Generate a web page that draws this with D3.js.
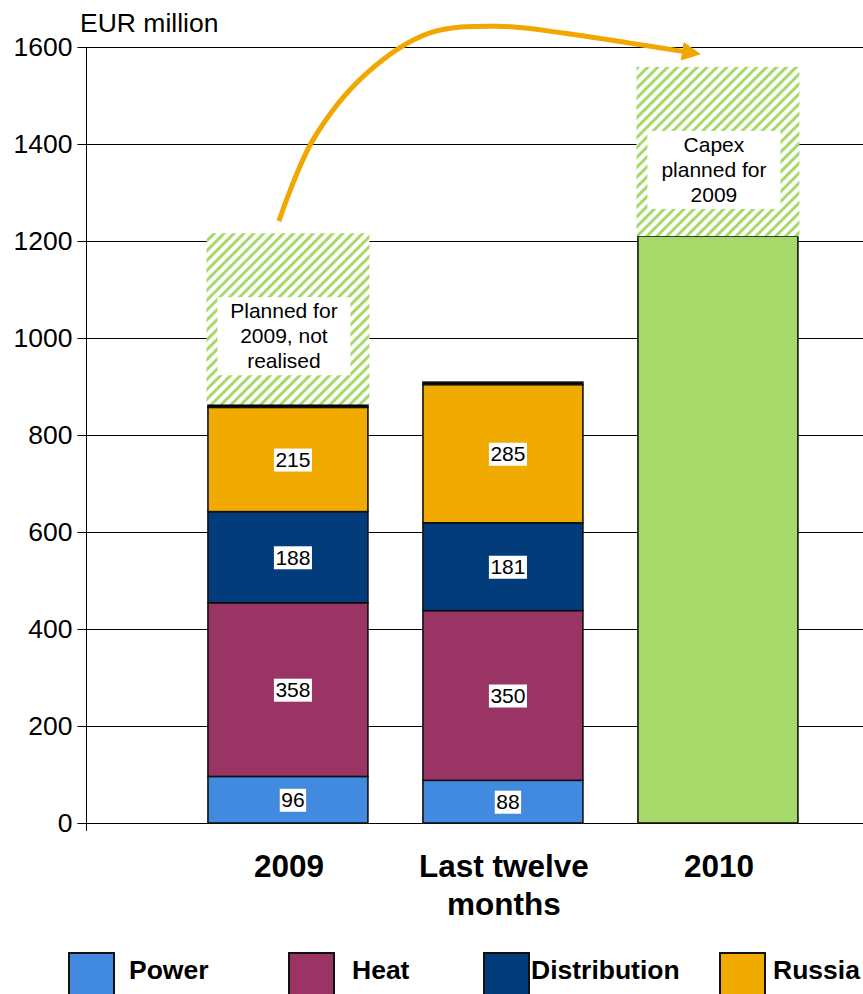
<!DOCTYPE html>
<html>
<head>
<meta charset="utf-8">
<script src="https://cdn.jsdelivr.net/npm/d3@7"></script>
<style>
  html, body { margin: 0; padding: 0; background: #fff; }
  svg { display: block; font-family: "Liberation Sans", Arial, sans-serif; }
</style>
</head>
<body>
<svg id="chart" width="863" height="994"></svg>
<script>
// ---------- data ----------
const categories = ["2009", "Last twelve months", "2010"];
const categoryLines = [["2009"], ["Last twelve", "months"], ["2010"]];
const power        = [96, 88, 0];
const heat         = [358, 350, 0];
const distribution = [188, 181, 0];
const russia       = [215, 285, 0];
const other        = [6, 5, 0];
const capex2010    = [0, 0, 1210];
const plannedNotRealised = [353, 0, 349];
const yTicks = [0, 200, 400, 600, 800, 1000, 1200, 1400, 1600];
const legendNames = ["Power", "Heat", "Distribution", "Russia"];
const annotationTexts = [["Planned for", "2009, not", "realised"], null, ["Capex", "planned for", "2009"]];
// arrow path in [category index, EUR million]
const arrowPoints = [[-0.042, 1241], [0.116, 1408], [0.367, 1546], [0.660, 1629], [0.972, 1643],
                     [1.279, 1629], [1.591, 1608], [1.851, 1590]];

// ---------- styles ----------
const keys = ["Power", "Heat", "Distribution", "Russia", "Other", "Capex2010", "Planned"];
const colors = {
  Power: "#428adf", Heat: "#9a3465", Distribution: "#023c7b", Russia: "#f1aa00",
  Other: "#000000", Capex2010: "#a6d96a", Planned: "url(#hatch)"
};
const seriesArrays = { Power: power, Heat: heat, Distribution: distribution, Russia: russia,
  Other: other, Capex2010: capex2010, Planned: plannedNotRealised };
const labelled = ["Power", "Heat", "Distribution", "Russia"];

const table = categories.map((c, i) => {
  const row = { category: c };
  keys.forEach(k => row[k] = seriesArrays[k][i]);
  return row;
});

const svg = d3.select("#chart");
const W = 863;
const axisX = 86;

const y = d3.scaleLinear().domain([0, 1600]).range([823, 47]);
const x = d3.scaleBand().domain(categories).range([axisX, W])
  .paddingInner(0.256).paddingOuter(0.435).align(0.652);
const bw = x.bandwidth();
const xi = d3.scaleLinear().domain([0, 2])
  .range([x(categories[0]) + bw / 2, x(categories[2]) + bw / 2]);

// hatch pattern
const defs = svg.append("defs");
const pat = defs.append("pattern").attr("id", "hatch")
  .attr("patternUnits", "userSpaceOnUse").attr("width", 7).attr("height", 7)
  .attr("patternTransform", "rotate(45)");
pat.append("rect").attr("width", 7).attr("height", 7).attr("fill", "#fff");
pat.append("rect").attr("width", 3).attr("height", 7).attr("fill", "#a6d96a");

const arrowColor = "#f0a800";
defs.append("marker").attr("id", "ahead")
  .attr("viewBox", "0 0 10 10").attr("refX", 2).attr("refY", 5)
  .attr("markerUnits", "userSpaceOnUse").attr("markerWidth", 19).attr("markerHeight", 19)
  .attr("orient", "auto")
  .append("path").attr("d", "M0,0 L10,5 L0,10 Z").attr("fill", arrowColor);

// gridlines
svg.append("g").selectAll("line").data(yTicks).join("line")
  .attr("x1", axisX).attr("x2", W)
  .attr("y1", d => Math.round(y(d)) + 0.5).attr("y2", d => Math.round(y(d)) + 0.5)
  .attr("stroke", "#000").attr("stroke-width", 1);

// stacked bars
const stacked = d3.stack().keys(keys)(table);
const barG = svg.append("g");
stacked.forEach(s => {
  const isHatch = s.key === "Planned";
  barG.append("g").selectAll("rect").data(s.filter(d => d[1] - d[0] > 0)).join("rect")
    .attr("x", d => x(d.data.category) - (isHatch ? 1.5 : 0))
    .attr("width", bw + (isHatch ? 3 : 0))
    .attr("y", d => y(d[1]))
    .attr("height", d => y(d[0]) - y(d[1]))
    .attr("fill", colors[s.key])
    .attr("stroke", isHatch ? "none" : "#111")
    .attr("stroke-width", isHatch ? 0 : 1.6);
});

// annotation boxes in hatched areas
const annG = svg.append("g");
stacked.find(s => s.key === "Planned").forEach((d, i) => {
  if (!annotationTexts[i] || d[1] - d[0] <= 0) return;
  const cx = x(d.data.category) + bw / 2 - 4;
  const top = y(d[1]) + 64;
  annG.append("rect").attr("x", cx - 66.5).attr("y", top).attr("width", 133).attr("height", 78)
    .attr("fill", "#fff");
  annotationTexts[i].forEach((t, j) => {
    annG.append("text").attr("x", cx).attr("y", top + 21 + j * 25)
      .attr("text-anchor", "middle").attr("font-size", 21).attr("fill", "#000").text(t);
  });
});

// data labels
const lblG = svg.append("g");
stacked.filter(s => labelled.includes(s.key)).forEach(s => {
  s.forEach(d => {
    const v = d[1] - d[0];
    if (v <= 0) return;
    const cx = x(d.data.category) + bw / 2 + 5;
    const cy = (y(d[0]) + y(d[1])) / 2;
    const g = lblG.append("g");
    const bg = g.append("rect").attr("fill", "#fff");
    const t = g.append("text").attr("x", cx).attr("y", cy).attr("dy", "0.36em")
      .attr("text-anchor", "middle").attr("font-size", 21).attr("fill", "#000").text(v);
    const bb = t.node().getBBox();
    bg.attr("x", bb.x - 1.5).attr("y", bb.y + 0.5).attr("width", bb.width + 3).attr("height", bb.height);
  });
});

// y axis
const yAxis = svg.append("g").attr("transform", `translate(${axisX + 0.5},0)`)
  .call(d3.axisLeft(y).tickValues(yTicks).tickFormat(d3.format("d")).tickSize(9).tickSizeOuter(0).tickPadding(5));
yAxis.select(".domain").remove();
yAxis.selectAll(".tick line").attr("stroke", "#000");
yAxis.selectAll(".tick text").attr("font-size", 26.5).attr("fill", "#000")
  .attr("font-family", "Liberation Sans, Arial, sans-serif");
svg.append("line").attr("x1", axisX + 0.5).attr("x2", axisX + 0.5)
  .attr("y1", y(1600)).attr("y2", y(0) + 8).attr("stroke", "#000").attr("stroke-width", 1);

svg.append("text").attr("x", 80).attr("y", 32).attr("font-size", 26.5).attr("fill", "#000")
  .text("EUR million");

// category labels
const catG = svg.append("g");
categories.forEach((c, i) => {
  categoryLines[i].forEach((ln, j) => {
    catG.append("text").attr("x", x(c) + bw / 2 + 1).attr("y", 877 + j * 38)
      .attr("text-anchor", "middle").attr("font-size", 31.5).attr("font-weight", "bold")
      .attr("fill", "#000").text(ln);
  });
});

// arrow
const line = d3.line().x(d => xi(d[0])).y(d => y(d[1])).curve(d3.curveCatmullRom.alpha(0.5));
svg.append("path").attr("d", line(arrowPoints)).attr("fill", "none")
  .attr("stroke", arrowColor).attr("stroke-width", 5).attr("stroke-linecap", "butt")
  .attr("marker-end", "url(#ahead)");

// legend
const legendRectX = [69, 289, 484, 720];
const legendTextX = [129, 352, 531, 773];
const legG = svg.append("g");
legendNames.forEach((n, i) => {
  legG.append("rect").attr("x", legendRectX[i]).attr("y", 953).attr("width", 45).attr("height", 46)
    .attr("fill", colors[n]).attr("stroke", "#111").attr("stroke-width", 2);
  legG.append("text").attr("x", legendTextX[i]).attr("y", 979).attr("font-size", 26.5)
    .attr("font-weight", "bold").attr("fill", "#000").text(n);
});
</script>
</body>
</html>
